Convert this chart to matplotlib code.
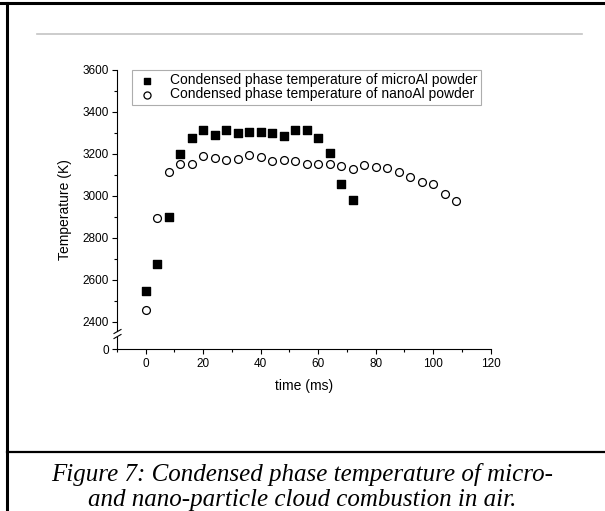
import matplotlib
matplotlib.use("Agg")
import matplotlib.pyplot as plt
from matplotlib.lines import Line2D
from matplotlib.ticker import MultipleLocator, FixedLocator

plt.rcParams["font.family"] = ["Liberation Sans", "DejaVu Sans"]

# time (ms)
micro_t = [0, 4, 8, 12, 16, 20, 24, 28, 32, 36, 40, 44, 48, 52, 56, 60, 64, 68, 72]
micro_T = [2545, 2676, 2900, 3200, 3275, 3314, 3289, 3314, 3300, 3303, 3306, 3298,
           3287, 3314, 3314, 3278, 3206, 3056, 2978]

nano_t = [0, 4, 8, 12, 16, 20, 24, 28, 32, 36, 40, 44, 48, 52, 56, 60, 64, 68, 72,
          76, 80, 84, 88, 92, 96, 100, 104, 108]
nano_T = [2458, 2893, 3115, 3152, 3152, 3190, 3179, 3171, 3178, 3194, 3184, 3165,
          3173, 3167, 3152, 3151, 3150, 3141, 3129, 3148, 3138, 3133, 3113, 3092,
          3067, 3056, 3008, 2976]

label_micro = "Condensed phase temperature of microAl powder"
label_nano = "Condensed phase temperature of nanoAl powder"
caption = "Figure 7: Condensed phase temperature of micro-\nand nano-particle cloud combustion in air."

W, H = 605, 511
fig = plt.figure(figsize=(W / 100, H / 100), dpi=100)

# page decorations: frame, gray rule, caption separator
fig.add_artist(Line2D([0, 1], [1 - 3 / H, 1 - 3 / H], color="black", lw=2.2))
fig.add_artist(Line2D([6.5 / W, 6.5 / W], [0, 1 - 3 / H], color="black", lw=2.2))
fig.add_artist(Line2D([37 / W, 582 / W], [1 - 34.5 / H, 1 - 34.5 / H], color="#c4c4c4", lw=1.2))
fig.add_artist(Line2D([6.5 / W, 1], [1 - 452 / H, 1 - 452 / H], color="black", lw=1.6))

left = 117 / W
width = (490.7 - 117) / W
top_ax = fig.add_axes([left, 1 - 331 / H, width, 261 / H])
bot_ax = fig.add_axes([left, 1 - 349.3 / H, width, 12.3 / H])

for ax in (top_ax, bot_ax):
    ax.set_xlim(-10, 120)
    ax.spines["top"].set_visible(False)
    ax.spines["right"].set_visible(False)
    ax.patch.set_alpha(0)
    ax.tick_params(direction="out", labelsize=8.5, length=3.5, width=0.8, pad=2.5)
    ax.tick_params(which="minor", direction="out", length=2, width=0.8)

top_ax.scatter(micro_t, micro_T, marker="s", s=30, c="black", label=label_micro, zorder=3)
top_ax.scatter(nano_t, nano_T, marker="o", s=32, facecolors="white", edgecolors="black",
               linewidths=0.9, label=label_nano, zorder=3)
top_ax.set_ylim(2355.6, 3600)
top_ax.yaxis.set_major_locator(MultipleLocator(200))
top_ax.yaxis.set_minor_locator(MultipleLocator(100))
top_ax.spines["bottom"].set_visible(False)
top_ax.tick_params(axis="x", which="both", bottom=False, labelbottom=False)

bot_ax.set_ylim(0, 50)
bot_ax.yaxis.set_major_locator(FixedLocator([0]))
bot_ax.xaxis.set_major_locator(MultipleLocator(20))
bot_ax.xaxis.set_minor_locator(MultipleLocator(10))
bot_ax.set_xlabel("time (ms)", fontsize=10, labelpad=7)

fig.text(65 / W, 1 - 210 / H, "Temperature (K)", rotation=90, fontsize=10,
         ha="center", va="center")

# break marks on the y axis
for yb in (331.5, 336.5):
    fig.add_artist(Line2D([114 / W, 121 / W], [1 - (yb + 2) / H, 1 - (yb - 2) / H],
                          color="black", lw=0.8))

leg = top_ax.legend(loc="upper left", bbox_to_anchor=((132 - 117) / (490.7 - 117), 1.0),
                    fontsize=10, frameon=True, fancybox=False, edgecolor="#999999",
                    borderpad=0.25, labelspacing=0.0, handletextpad=0.9,
                    handlelength=1.6, borderaxespad=0, markerscale=0.9)
leg.get_frame().set_linewidth(0.8)

fig.text(0.5, 1 - 487 / H, caption, ha="center", va="center", fontsize=18,
         family=["Liberation Serif", "DejaVu Serif"], style="italic", linespacing=1.15)

fig.savefig("out.png", dpi=100)
